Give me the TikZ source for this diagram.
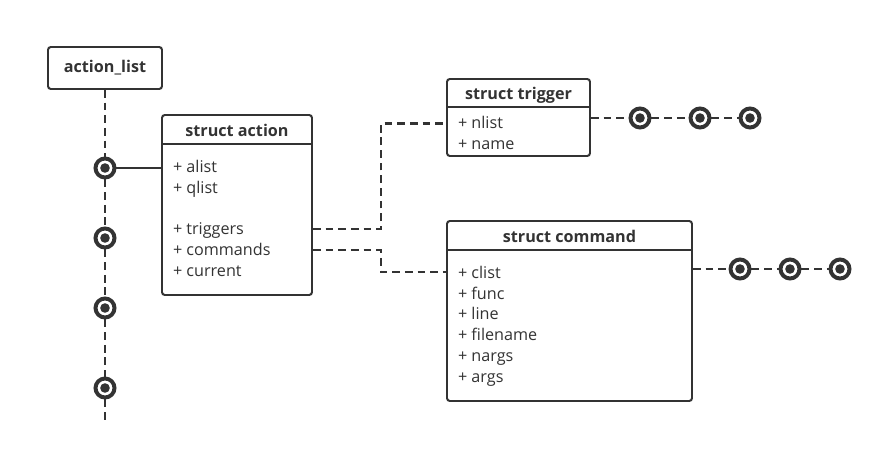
\documentclass[tikz,border=0pt]{standalone}
\usepackage{fontspec}
\setmainfont{Open Sans}
\usetikzlibrary{positioning, calc}
\definecolor{ink}{HTML}{333333}

\begin{document}
\begin{tikzpicture}[
    line width=1.4pt,
    box/.style={rectangle, draw=ink, line width=1.4pt, rounded corners=2pt, fill=white},
    title/.style={font=\fontsize{11.5}{14.9}\selectfont\bfseries, text=ink},
    items/.style={font=\fontsize{11.5}{14.9}\selectfont, text=ink, align=left, inner sep=0pt, anchor=north west},
    ring/.style={circle, draw=ink, fill=white, line width=2.8pt, minimum size=0.475cm, inner sep=0pt,
        path picture={\fill[ink] (path picture bounding box.center) circle (0.12cm);}},
    link/.style={draw=ink, line width=1.5pt, dash pattern=on 5.5pt off 3.5pt},
    solid link/.style={draw=ink, line width=1.4pt}
]
    \useasboundingbox (0,0) rectangle (22.05,-11.35);

    % action_list
    \node[box, minimum width=2.85cm, minimum height=1.05cm] (actlist) at (2.625,-1.7) {};
    \node[title] at (actlist.center) {action\_list};

    % list entries
    \node[ring] (a1) at (2.625,-4.2) {};
    \node[ring] (a2) at (2.625,-5.95) {};
    \node[ring] (a3) at (2.625,-7.7) {};
    \node[ring] (a4) at (2.625,-9.7) {};
    \coordinate (aend) at (2.625,-10.5);

    % struct action
    \node[box, minimum width=3.75cm, minimum height=4.5cm] (action) at (5.925,-5.125) {};
    \node[title] at ($(action.north)+(0,-0.4)$) {struct action};
    \draw[ink] ($(action.north west)+(0,-0.75)$) -- ($(action.north east)+(0,-0.75)$);
    \node[items] at ($(action.north west)+(0.275,-1.12)$)
        {+ alist\\+ qlist\\[14.9pt]+ triggers\\+ commands\\+ current};
    \coordinate (trigout) at ($(action.east)+(0,-0.6)$);
    \coordinate (cmdout) at ($(action.east)+(0,-1.125)$);

    % struct trigger
    \node[box, minimum width=3.575cm, minimum height=1.925cm] (trigger) at (12.9625,-2.9375) {};
    \node[title] at ($(trigger.north)+(0,-0.42)$) {struct trigger};
    \draw[ink] ($(trigger.north west)+(0,-0.725)$) -- ($(trigger.north east)+(0,-0.725)$);
    \node[items] at ($(trigger.north west)+(0.275,-0.93)$) {+ nlist\\+ name};

    % struct command
    \node[box, minimum width=6.125cm, minimum height=4.5cm] (command) at (14.2375,-7.775) {};
    \node[title] at ($(command.north)+(0,-0.4)$) {struct command};
    \draw[ink] ($(command.north west)+(0,-0.75)$) -- ($(command.north east)+(0,-0.75)$);
    \node[items] at ($(command.north west)+(0.275,-1.12)$)
        {+ clist\\+ func\\+ line\\+ filename\\+ nargs\\+ args};

    % trigger list
    \node[ring] (t1) at (16,-2.95) {};
    \node[ring] (t2) at (17.5,-2.95) {};
    \node[ring] (t3) at (18.75,-2.95) {};

    % command list
    \node[ring] (c1) at (18.5,-6.725) {};
    \node[ring] (c2) at (19.75,-6.725) {};
    \node[ring] (c3) at (21,-6.725) {};

    % Connectors
    \draw[link] (actlist) -- (a1);
    \draw[link] (a1) -- (a2);
    \draw[link] (a2) -- (a3);
    \draw[link] (a3) -- (a4);
    \draw[link] (a4) -- (aend);
    \draw[solid link] (a1) -- (action.west |- a1);
    \draw[link] (trigout) -- ++(1.7,0) |- ([yshift=-0.15cm]trigger.west);
    \draw[link] (cmdout) -- ++(1.7,0) |- ([yshift=0.975cm]command.west);
    \draw[link] (trigger.east |- t1) -- (t1);
    \draw[link] (t1) -- (t2);
    \draw[link] (t2) -- (t3);
    \draw[link] (command.east |- c1) -- (c1);
    \draw[link] (c1) -- (c2);
    \draw[link] (c2) -- (c3);
\end{tikzpicture}
\end{document}
